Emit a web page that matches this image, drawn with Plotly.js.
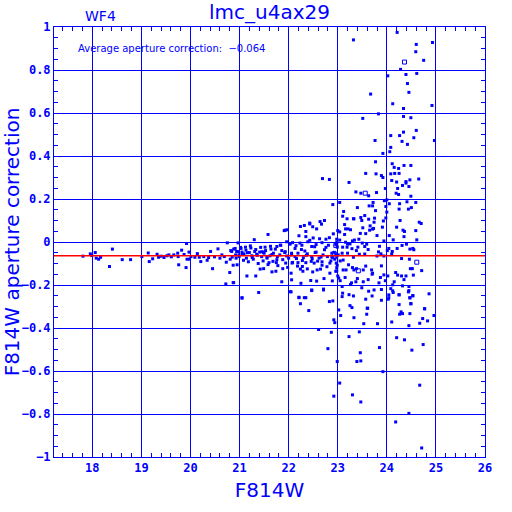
<!DOCTYPE html>
<html>
<head>
<meta charset="utf-8">
<script src="https://cdn.plot.ly/plotly-3.0.1.min.js"></script>
<style>html,body{margin:0;padding:0;background:#fff;}#chart{width:512px;height:512px;}</style>
</head>
<body>
<div id="chart"></div>
<script>
// ---- data: [F814W magnitude, aperture correction] ----
const brightStars = [
 [17.81,-0.066],[17.96,-0.055],[17.99,-0.063],[18.06,-0.049],[18.08,-0.075],[18.13,-0.080],[18.17,-0.071],[18.41,-0.033],
 [18.35,-0.114],[18.61,-0.082],[18.78,-0.082],[19.01,-0.068],[19.14,-0.051],[19.16,-0.091],[19.23,-0.078],[19.32,-0.057],
 [19.35,-0.071],[19.40,-0.066],[19.46,-0.072],[19.52,-0.064],[19.56,-0.060],[19.61,-0.069],[19.66,-0.060],[19.74,-0.052],
 [19.75,-0.068],[19.82,-0.038],[19.76,-0.106],[19.87,-0.058],[19.92,-0.007],[19.93,-0.080],[19.91,-0.119],[19.97,-0.047],
 [19.98,-0.080],[20.01,-0.068],[20.09,-0.071],[20.14,-0.054],[20.18,-0.071],[20.21,-0.091],[20.27,-0.068],[20.34,-0.085],
 [20.37,-0.072],[20.41,-0.044],[20.45,-0.124],[20.49,-0.069],[20.56,-0.032],[20.60,-0.075],[20.64,-0.060],[20.69,-0.068],
 [20.73,-0.094],[20.75,-0.004],[20.80,-0.142],[20.72,-0.195],[20.88,-0.189],[20.87,-0.108],[20.95,-0.106],[20.97,-0.004],
 [21.05,-0.259],[20.82,-0.040],[20.91,-0.030],[20.98,-0.045],[20.85,-0.070],[20.99,-0.060],[20.81,-0.080],[20.93,-0.075],[21.02,-0.025]
];
const midStars = [
 [22.24,0.072],[22.43,0.088],[21.58,0.035],[21.91,0.053],[21.30,0.011],[21.96,0.001],[22.21,0.029],[22.35,0.025],
 [22.39,0.001],[22.47,-0.021],[22.56,-0.012],[22.68,-0.003],[22.81,-0.015],[22.76,0.013],[22.96,-0.012],[22.98,-0.001],
 [22.50,0.019],[21.76,-0.021],[21.84,-0.015],[22.08,-0.003],[22.15,-0.017],[22.27,-0.015],[21.52,-0.024],[21.64,-0.033],
 [21.12,-0.024],[21.22,-0.018],[20.88,-0.033],[20.94,-0.044],[21.05,-0.047],[21.31,-0.044],[21.41,-0.047],[21.49,-0.049],
 [21.60,-0.096],[21.75,-0.096],[21.94,-0.098],[22.07,-0.098],[22.19,-0.096],[22.28,-0.114],[22.35,-0.096],[22.52,-0.098],
 [22.59,-0.089],[22.68,-0.108],[22.84,-0.098],[22.97,-0.098],[21.42,-0.126],[21.49,-0.124],[21.66,-0.139],[21.74,-0.136],
 [21.88,-0.124],[22.05,-0.145],[22.24,-0.126],[22.29,-0.136],[22.49,-0.139],[22.65,-0.126],[22.84,-0.145],[22.98,-0.120],
 [21.33,-0.158],[21.15,-0.158],[21.86,-0.185],[22.06,-0.176],[22.25,-0.192],[22.45,-0.179],[22.57,-0.182],[22.72,-0.170],
 [22.89,-0.181],[20.87,-0.189],[21.39,-0.235],[21.05,-0.261],[22.03,-0.231],[22.21,-0.257],[22.47,-0.223],[22.71,-0.219],
 [23.02,-0.168],[22.43,0.084],[22.32,0.077],[22.49,0.071],[22.64,0.095],[22.73,0.100],[22.67,0.083],[22.57,0.061],
 [21.93,0.055],[21.97,0.057],[22.35,0.049],[22.69,0.295],[22.83,0.291],[22.90,0.174]
];
const bandStars = [
 [20.84,-0.044],[20.92,-0.060],[20.99,-0.068],[21.09,-0.055],[21.14,-0.075],[21.20,-0.049],[21.25,-0.064],[21.35,-0.057],
 [21.45,-0.068],[21.50,-0.052],[21.56,-0.075],[21.62,-0.064],[21.69,-0.052],[21.77,-0.068],[21.82,-0.060],[21.92,-0.049],
 [22.00,-0.075],[22.06,-0.060],[22.13,-0.068],[22.19,-0.052],[22.30,-0.073],[22.38,-0.055],[22.47,-0.068],[22.54,-0.049],
 [22.62,-0.075],[22.70,-0.060],[22.79,-0.068],[22.88,-0.052],[22.94,-0.080],[23.01,-0.060],
 [21.03,-0.030],[21.08,-0.085],[21.13,-0.038],[21.18,-0.092],[21.23,-0.028],[21.28,-0.080],[21.33,-0.035],[21.38,-0.100],
 [21.43,-0.025],[21.48,-0.088],[21.53,-0.040],[21.58,-0.105],[21.63,-0.020],[21.68,-0.090],[21.73,-0.033],[21.78,-0.110],
 [21.83,-0.015],[21.88,-0.082],[21.93,-0.045],[21.98,-0.118],[22.03,-0.010],[22.08,-0.095],[22.13,-0.030],[22.18,-0.112],
 [22.23,-0.005],[22.28,-0.086],[22.33,-0.042],[22.38,-0.125],[22.43,0.008],[22.48,-0.078],[22.53,-0.022],[22.58,-0.130],
 [22.63,0.015],[22.68,-0.092],[22.73,-0.036],[22.78,-0.115],[22.83,0.020],[22.88,-0.070],[22.93,-0.048],[22.98,-0.135],
 [21.06,-0.058],[21.16,-0.050],[21.26,-0.072],[21.36,-0.062],[21.46,-0.045],[21.56,-0.070],[21.66,-0.058],[21.76,-0.082],
 [21.86,-0.040],[21.96,-0.065],[22.06,-0.052],[22.16,-0.077],[22.26,-0.035],[22.36,-0.062],[22.46,-0.090],[22.56,-0.047],
 [22.66,-0.070],[22.76,-0.025],[22.86,-0.088],[22.96,-0.058]
];
const faintStars = [
 [23.32,0.940],[24.21,0.975],[24.60,0.919],[24.93,0.928],[24.59,0.885],[24.75,0.845],[24.28,0.803],[24.02,0.773],
 [24.39,0.779],[24.61,0.784],[24.42,0.737],[23.67,0.688],[24.45,0.696],[24.12,0.643],[24.34,0.621],[24.92,0.635],
 [23.83,0.596],[23.51,0.575],[24.34,0.584],[24.49,0.578],[24.60,0.519],[24.34,0.511],[24.08,0.495],[24.26,0.495],
 [24.55,0.485],[23.76,0.472],[24.31,0.468],[24.97,0.472],[24.42,0.454],[24.08,0.440],[24.06,0.420],[23.92,0.412],
 [23.77,0.373],[23.23,0.277],[23.57,0.319],[23.78,0.317],[23.89,0.309],[23.92,0.300],[23.37,0.233],[23.47,0.227],
 [23.63,0.215],[23.79,0.230],[23.97,0.249],[23.04,0.184],[23.12,0.142],[23.19,0.108],[23.32,0.108],[23.47,0.114],
 [23.55,0.123],[23.49,0.100],[23.63,0.106],[23.75,0.111],[23.71,0.168],[23.77,0.146],[24.00,0.139],[23.95,0.192],
 [24.05,0.178],[24.11,0.364],[24.15,0.347],[24.24,0.342],[24.35,0.356],[24.49,0.356],[24.08,0.317],[24.16,0.319],
 [24.25,0.319],[24.10,0.286],[24.20,0.279],[24.22,0.249],[24.32,0.263],[24.39,0.274],[24.45,0.258],[24.65,0.293],
 [24.39,0.281],[24.47,0.289],[24.19,0.227],[24.24,0.221],[24.49,0.213],[24.00,0.196],[24.26,0.178],[24.41,0.187],
 [24.59,0.184],[23.64,0.168],[23.72,0.184],[23.98,0.165],[24.25,0.153],[24.44,0.153],[24.50,0.160],[23.33,0.108],
 [23.74,0.092],[23.93,0.098],[23.98,0.112],[24.27,0.100],[24.66,0.092],[24.70,0.086],[23.14,0.081],[23.16,0.061],
 [23.21,0.061],[23.26,0.057],[23.14,0.035],[23.04,0.047],[23.00,0.053],[23.51,0.066],[23.66,0.075],[23.65,0.055],
 [23.71,0.060],[23.73,0.063],[23.91,0.069],[23.57,0.039],[24.33,0.055],[24.36,0.049],[24.35,0.025],[24.59,0.053],
 [24.20,0.069],[24.13,0.010],[23.94,0.005],[24.61,0.010],[22.91,0.038],[22.98,0.013],[23.04,0.009],[23.16,-0.001],
 [23.30,0.005],[23.34,0.009],[23.43,0.013],[23.50,-0.005],[23.25,-0.009],[22.99,-0.024],[23.10,-0.024],[23.19,-0.024],
 [23.29,-0.031],[23.41,-0.024],[23.55,-0.021],[23.59,-0.010],[23.83,-0.046],[23.88,-0.055],[24.01,-0.040],[24.04,-0.030],
 [24.11,-0.044],[24.21,-0.030],[24.31,-0.016],[24.47,-0.033],[24.53,-0.030],[24.55,-0.036],[23.09,-0.052],[22.98,-0.071],
 [22.90,-0.073],[23.05,-0.088],[23.11,-0.084],[23.20,-0.052],[23.32,-0.071],[23.44,-0.057],[23.55,-0.056],[23.80,-0.065],
 [23.94,-0.065],[24.10,-0.056],[24.46,-0.080],[24.30,-0.077],[24.71,-0.133],[23.30,-0.119],[23.33,-0.130],[23.38,-0.124],
 [23.52,-0.130],[23.57,-0.112],[23.69,-0.130],[23.70,-0.150],[23.71,-0.145],[23.89,-0.111],[23.94,-0.153],[23.87,-0.165],
 [24.02,-0.158],[24.18,-0.142],[24.22,-0.154],[24.30,-0.158],[24.39,-0.158],[24.48,-0.124],[24.52,-0.124],[24.54,-0.154],
 [22.99,-0.108],[22.96,-0.136],[23.00,-0.158],[23.11,-0.130],[23.17,-0.130],[23.22,-0.106],[23.09,-0.207],[23.26,-0.198],
 [23.49,-0.213],[23.37,-0.185],[23.63,-0.229],[23.74,-0.223],[23.70,-0.251],[23.89,-0.221],[24.04,-0.246],[24.12,-0.199],
 [24.08,-0.217],[24.12,-0.227],[24.25,-0.245],[24.32,-0.204],[24.45,-0.207],[24.44,-0.232],[24.53,-0.249],[24.47,-0.260],
 [24.86,-0.241],[24.77,-0.310],[23.09,-0.254],[23.10,-0.238],[23.23,-0.245],[23.32,-0.251],[23.57,-0.266],[23.89,-0.271],
 [24.03,-0.266],[24.25,-0.291],[24.49,-0.286],[23.60,-0.308],[23.25,-0.296],[23.29,-0.305],[22.05,-0.232],[22.47,-0.226],
 [22.71,-0.223],[22.21,-0.259],[22.32,-0.259],[22.35,-0.259],[22.24,-0.287],[22.41,-0.319],[22.83,-0.277],[22.90,-0.274],
 [22.92,-0.362],[22.94,-0.375],[23.02,-0.316],[23.06,-0.342],[23.33,-0.352],[23.53,-0.380],[23.59,-0.336],[23.61,-0.308],
 [23.81,-0.380],[24.10,-0.372],[24.26,-0.336],[24.29,-0.325],[24.32,-0.333],[24.47,-0.333],[24.45,-0.389],[24.67,-0.378],
 [24.73,-0.356],[24.83,-0.367],[24.77,-0.311],[24.96,-0.342],[24.49,-0.288],[24.04,-0.259],[24.13,-0.235],[24.25,-0.246],
 [24.45,-0.226],[24.47,-0.259],[24.53,-0.251],[22.61,-0.407],[22.87,-0.420],[23.23,-0.440],[23.44,-0.418],[22.80,-0.496],
 [23.46,-0.515],[23.85,-0.491],[24.20,-0.445],[24.36,-0.455],[24.74,-0.477],[24.51,-0.503],[22.99,-0.556],[23.39,-0.556],
 [23.47,-0.553],[23.92,-0.603],[23.04,-0.656],[22.92,-0.717],[23.30,-0.711],[23.47,-0.744],[24.67,-0.666],[24.45,-0.797],
 [24.18,-0.837],[24.71,-0.958]
];
const extraFaintStars = [
 [23.05,-0.180],[23.15,-0.165],[23.28,-0.190],[23.40,-0.170],[23.52,-0.185],[23.62,-0.175],[23.84,-0.190],[23.97,-0.180],
 [24.15,-0.185],[24.35,-0.175],[23.20,-0.010],[23.38,-0.040],[23.62,-0.035],[23.85,-0.020],[24.05,0.030],[24.40,-0.010],
 [23.46,0.040],[23.80,0.030],[23.10,0.120],[23.40,0.160]
];
const openStars = [[24.36,0.837],[23.56,0.227],[24.61,-0.094],[23.42,-0.134],[22.93,-0.055],[22.96,-0.016]];
const avgCorrection = -0.064;
const xTickVals = [18,19,20,21,22,23,24,25,26];
const yTickVals = [-1,-0.8,-0.6,-0.4,-0.2,0,0.2,0.4,0.6,0.8,1];
const yTickText = ['\u22121','\u22120.8','\u22120.6','\u22120.4','\u22120.2','0','0.2','0.4','0.6','0.8','1'];

const BLUE = '#0000ff';
const filled = brightStars.concat(midStars, bandStars, faintStars, extraFaintStars);
const traces = [
  {type:'scatter', mode:'markers', x: filled.map(p=>p[0]), y: filled.map(p=>p[1]),
   marker:{symbol:'square', size:3, color:BLUE, line:{width:0}}, hoverinfo:'skip'},
  {type:'scatter', mode:'markers', x: openStars.map(p=>p[0]), y: openStars.map(p=>p[1]),
   marker:{symbol:'square-open', size:4, color:BLUE, line:{width:1, color:BLUE}}, hoverinfo:'skip'}
];
const tickFont = {family:'DejaVu Sans Mono, Liberation Mono, monospace', size:12, color:BLUE, weight:'bold'};
const titleFamily = 'DejaVu Sans, sans-serif';
const axisCommon = {
  showline:true, linecolor:BLUE, linewidth:1, mirror:'ticks',
  ticks:'inside', ticklen:4, tickcolor:BLUE, tickwidth:1,
  showgrid:true, gridcolor:BLUE, gridwidth:1, zeroline:false,
  tickfont:tickFont
};
const layout = {
  width:512, height:512,
  margin:{l:54, r:27, t:27, b:55, pad:0},
  paper_bgcolor:'#ffffff', plot_bgcolor:'#ffffff',
  showlegend:false,
  xaxis: Object.assign({}, axisCommon, {
    range:[17.22,26], tickmode:'array', tickvals:xTickVals, ticktext:xTickVals.map(String),
    minor:{dtick:0.2, tick0:18, ticks:'inside', ticklen:4, tickcolor:BLUE, showgrid:false},
    title:{text:'F814W', font:{family:titleFamily, size:20, color:BLUE}, standoff:8}
  }),
  yaxis: Object.assign({}, axisCommon, {
    range:[-1,1], tickmode:'array', tickvals:yTickVals, ticktext:yTickText,
    minor:{dtick:0.05, tick0:0, ticks:'inside', ticklen:4, tickcolor:BLUE, showgrid:false},
    title:{text:'F814W aperture correction', font:{family:titleFamily, size:20, color:BLUE}, standoff:8}
  }),
  shapes:[{type:'line', xref:'paper', x0:0, x1:1, yref:'y', y0:avgCorrection, y1:avgCorrection,
           line:{color:'#ff0000', width:1.5}, layer:'above'}],
  annotations:[
    {text:'lmc_u4ax29', xref:'paper', yref:'paper', x:0.5, y:1, xanchor:'center', yanchor:'bottom', yshift:1,
     showarrow:false, font:{family:titleFamily, size:20, color:BLUE}},
    {text:'WF4', xref:'paper', yref:'paper', x:0.109, y:1, xanchor:'center', yanchor:'bottom', yshift:1,
     showarrow:false, font:{family:titleFamily, size:14, color:BLUE}},
    {text:'Average aperture correction:  \u22120.064', xref:'paper', yref:'paper', x:0.05, y:0.951,
     xanchor:'left', yanchor:'middle', showarrow:false, font:{family:titleFamily, size:10, color:BLUE},
     bgcolor:'rgba(0,0,0,0)'}
  ]
};
Plotly.newPlot('chart', traces, layout, {staticPlot:true, displayModeBar:false});
</script>
</body>
</html>
